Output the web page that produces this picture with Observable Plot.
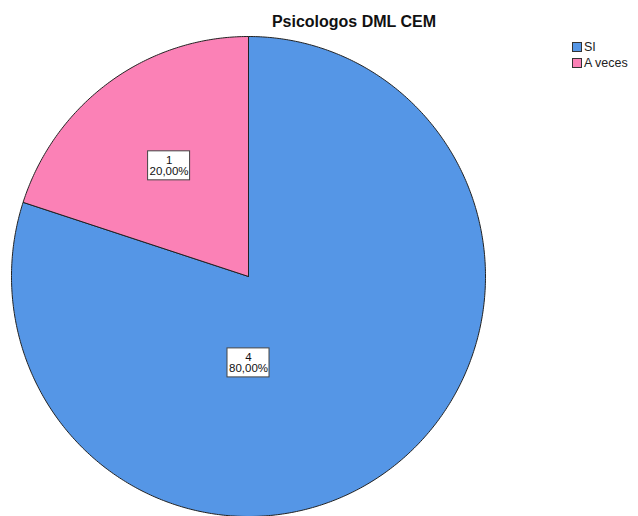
<!DOCTYPE html>
<html>
<head>
<meta charset="utf-8">
<script src="https://cdn.jsdelivr.net/npm/d3@7"></script>
<script src="https://cdn.jsdelivr.net/npm/@observablehq/plot@0.6"></script>
<style>
  body { margin: 0; background: #fff; font-family: "Liberation Sans", Arial, sans-serif; }
  #wrap { position: relative; width: 638px; height: 516px; overflow: hidden; }
  #title { position: absolute; left: 200px; width: 308px; top: 13px; text-align: center; font-weight: bold; font-size: 16px; color: #111; }
  #legend { position: absolute; left: 572px; top: 39px; font-size: 12.5px; color: #222; }
  .item { display: flex; align-items: center; height: 16px; }
  .sw { width: 10px; height: 10px; border: 1px solid #333; margin-right: 2px; box-sizing: border-box; }
  #chart svg { display: block; }
</style>
</head>
<body>
<div id="wrap">
  <div id="chart"></div>
  <div id="title"></div>
  <div id="legend"></div>
</div>
<script>
const chartTitle = "Psicologos DML CEM";
const categories = ["SI", "A veces"];
const counts = [4, 1];
const percentLabels = ["80,00%", "20,00%"];
const colors = ["#5596e6", "#fb81b6"];

// layout (pixels)
const W = 638, H = 516, RX = 237, RY = 240, CX = 248, CY = 276;

const total = d3.sum(counts);
const arcs = d3.pie().sort(null).startAngle(0).endAngle(2 * Math.PI)(counts);

// polygons in unit-circle data coordinates (angle clockwise from 12 o'clock)
const poly = [];
arcs.forEach((a, i) => {
  const cat = categories[i];
  poly.push({cat, x: 0, y: 0});
  const n = Math.max(4, Math.ceil((a.endAngle - a.startAngle) / 0.01));
  for (let k = 0; k <= n; k++) {
    const t = a.startAngle + (a.endAngle - a.startAngle) * k / n;
    poly.push({cat, x: Math.sin(t), y: Math.cos(t)});
  }
  poly.push({cat, x: 0, y: 0});
});

const labels = arcs.map((a, i) => {
  let x, y;
  if (counts[i] / total > 0.5) { x = 0; y = -0.36; }
  else {
    const m = (a.startAngle + a.endAngle) / 2;
    x = 0.57 * Math.sin(m); y = 0.57 * Math.cos(m);
  }
  return {cat: categories[i], x, y, text: counts[i] + "\n" + percentLabels[i]};
});
const bw = 42 / RX / 2, bh = 29 / RY / 2;

const plot = Plot.plot({
  width: W, height: H,
  margin: 0,
  x: {domain: [-CX / RX, (W - CX) / RX], axis: null},
  y: {domain: [-(H - CY) / RY, CY / RY], axis: null},
  color: {domain: categories, range: colors},
  marks: [
    Plot.line(poly, {x: "x", y: "y", z: "cat", fill: "cat", stroke: "#222", strokeWidth: 1, strokeLinejoin: "round", curve: "linear"}),
    Plot.rect(labels, {x1: d => d.x - bw, x2: d => d.x + bw, y1: d => d.y - bh, y2: d => d.y + bh, fill: "white", stroke: "#444", strokeWidth: 1}),
    Plot.text(labels, {x: "x", y: "y", text: "text", fontSize: 11.5, lineHeight: 0.95, fill: "#111", fontFamily: "Liberation Sans, Arial, sans-serif"})
  ]
});
document.getElementById("chart").appendChild(plot);

document.getElementById("title").textContent = chartTitle;
const leg = document.getElementById("legend");
categories.forEach((c, i) => {
  const it = document.createElement("div");
  it.className = "item";
  const sw = document.createElement("div");
  sw.className = "sw";
  sw.style.background = colors[i];
  const tx = document.createElement("span");
  tx.textContent = c;
  it.appendChild(sw); it.appendChild(tx);
  leg.appendChild(it);
});
</script>
</body>
</html>
